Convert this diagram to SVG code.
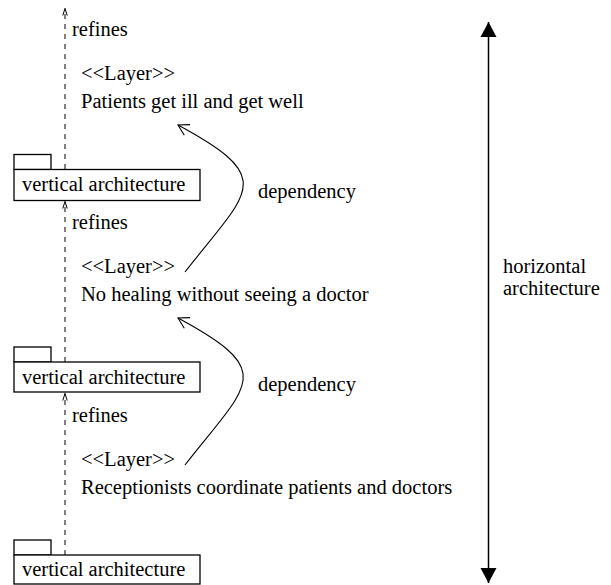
<svg xmlns="http://www.w3.org/2000/svg" width="611" height="585" viewBox="0 0 611 585" font-family="'Liberation Serif', Tinos, 'Times New Roman', 'DejaVu Serif', serif">
<style>
text{font-family:'Liberation Serif', Tinos, 'Times New Roman', 'DejaVu Serif', serif;font-size:20.5px;fill:#000}
.box{fill:#fff;stroke:#000;stroke-width:1.3}
.dash{fill:none;stroke:#000;stroke-width:1;stroke-dasharray:5,5}
.dep{fill:none;stroke:#000;stroke-width:1.1}
.ax{fill:none;stroke:#000;stroke-width:1.5}
</style>
<defs>
<marker id="open" markerUnits="userSpaceOnUse" viewBox="-12 -8 14 16" markerWidth="14" markerHeight="16" refX="0" refY="0" orient="auto" overflow="visible">
<path d="M-10.4,-6 L0,0 L-10.4,6" fill="none" stroke="#000" stroke-width="1.1"/>
</marker>
<marker id="small" markerUnits="userSpaceOnUse" viewBox="-8 -4 10 8" markerWidth="10" markerHeight="8" refX="0" refY="0" orient="auto" overflow="visible">
<path d="M-7,-2.2 L0,0 L-7,2.2" fill="none" stroke="#000" stroke-width="1"/>
</marker>
<marker id="solid" markerUnits="userSpaceOnUse" viewBox="-16 -9 17 18" markerWidth="17" markerHeight="18" refX="0" refY="0" orient="auto" overflow="visible">
<path d="M-15,-8 L0,0 L-15,8 Z" fill="#000"/>
</marker>
</defs>
<g id="connectors">
<line class="dash" x1="65" y1="169" x2="65" y2="8.5" marker-end="url(#small)"/>
<line class="dash" x1="65" y1="362" x2="65" y2="201.5" marker-end="url(#small)"/>
<line class="dash" x1="65" y1="555" x2="65" y2="393.5" marker-end="url(#small)"/>
<path class="dep" d="M185,272 C249,190 278,179 178,125" marker-end="url(#open)"/>
<path class="dep" d="M185,465 C249,383 278,372 178,318" marker-end="url(#open)"/>
<line class="ax" x1="488.5" y1="300" x2="488.5" y2="22" marker-end="url(#solid)"/>
<line class="ax" x1="488.5" y1="300" x2="488.5" y2="583" marker-end="url(#solid)"/>
<text x="72" y="36">refines</text>
<text x="72" y="229">refines</text>
<text x="72" y="422">refines</text>
<text x="258" y="198">dependency</text>
<text x="258" y="391">dependency</text>
</g>
<g id="layer1">
<text x="81" y="80">&lt;&lt;Layer&gt;&gt;</text>
<text x="81" y="108">Patients get ill and get well</text>
</g>
<g id="layer2">
<text x="81" y="273">&lt;&lt;Layer&gt;&gt;</text>
<text x="81" y="301">No healing without seeing a doctor</text>
</g>
<g id="layer3">
<text x="81" y="466">&lt;&lt;Layer&gt;&gt;</text>
<text x="81" y="494">Receptionists coordinate patients and doctors</text>
</g>
<g id="vertical1">
<rect class="box" x="14" y="154.5" width="37" height="15"/>
<rect class="box" x="14" y="169.5" width="186" height="31"/>
<text x="22" y="191">vertical architecture</text>
</g>
<g id="vertical2">
<rect class="box" x="14" y="347" width="37" height="15"/>
<rect class="box" x="14" y="362" width="186" height="30"/>
<text x="22" y="384">vertical architecture</text>
</g>
<g id="vertical3">
<rect class="box" x="14" y="540" width="37" height="15"/>
<rect class="box" x="14" y="555" width="186" height="29"/>
<text x="22" y="576">vertical architecture</text>
</g>
<g id="horizontal">
<text x="503" y="273">horizontal</text>
<text x="503" y="295">architecture</text>
</g>
</svg>
